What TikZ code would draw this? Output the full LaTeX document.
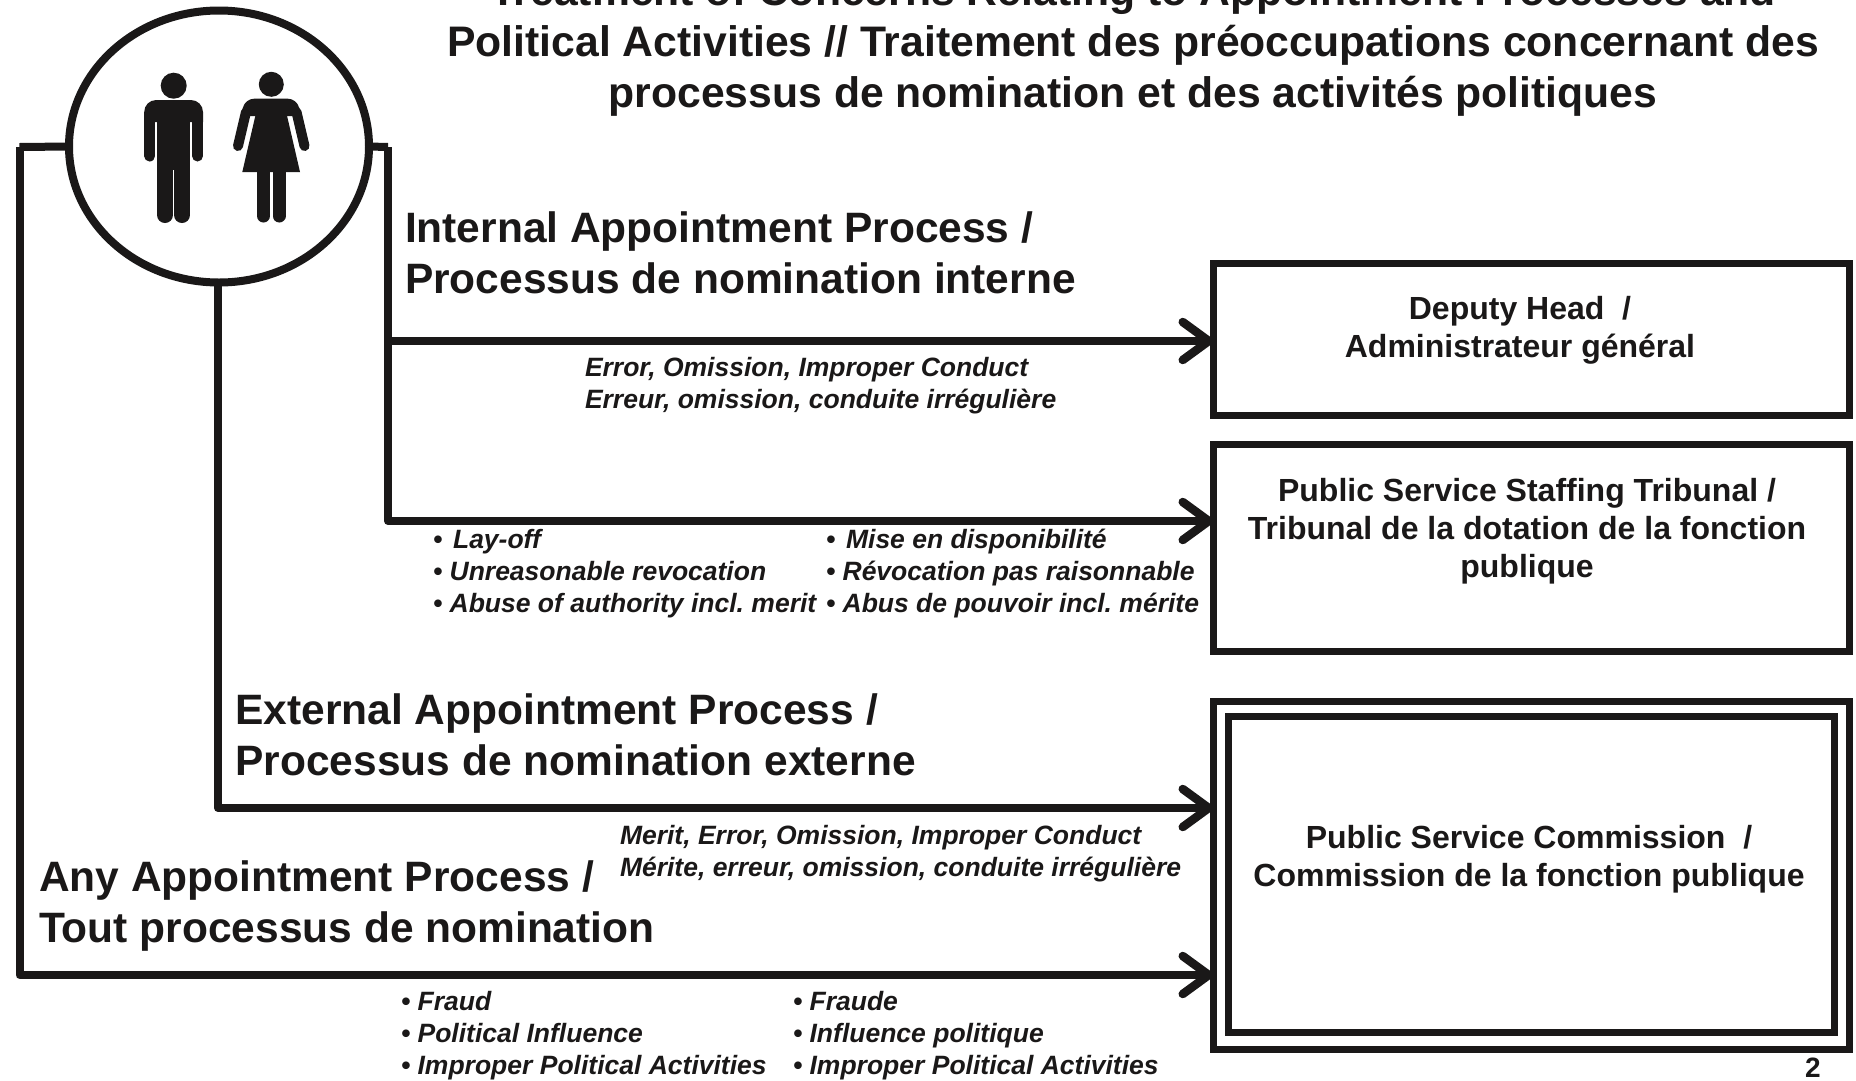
\documentclass[tikz,border=0pt]{standalone}
\usepackage{fontspec}
\setmainfont{Liberation Sans}
\frenchspacing
\usetikzlibrary{arrows.meta,calc,shapes.geometric}
\definecolor{ink}{HTML}{1A1818}
\tikzset{
  x=1pt,y=-1pt,
  every node/.style={text=ink,inner sep=0pt,outer sep=0pt},
  conn/.style={draw=ink,line width=8pt,line join=round},
  arrowconn/.style={conn,-{Straight Barb[length=26pt,width=38pt,line width=8.5pt,round]}},
  titletext/.style={align=center,anchor=north,font=\fontsize{42.7}{51}\selectfont\bfseries\frenchspacing},
  headtext/.style={align=left,anchor=north west,font=\fontsize{42.5}{51}\selectfont\bfseries},
  boxtext/.style={align=center,anchor=north,font=\fontsize{32}{38}\selectfont\bfseries},
  notetext/.style={align=left,anchor=north west,font=\fontsize{26.5}{32}\selectfont\bfseries\itshape\frenchspacing},
  boxframe/.style={draw=ink,line width=7pt,rectangle,anchor=north west},
  person/.style={draw=ink,fill=white,line width=8pt,ellipse,minimum width=300pt,minimum height=272pt},
  bodyfill/.style={fill=ink,draw=none},
  limb/.style={draw=ink,line cap=round}
}
\begin{document}
\begin{tikzpicture}
\useasboundingbox (0,0) rectangle (1856,1080);
% boxes
\node[boxframe,minimum width=636pt,minimum height=152pt] (dep) at (1213,263) {};
\node[boxframe,minimum width=636pt,minimum height=207pt] (trib) at (1213,444) {};
\node[boxframe,minimum width=636pt,minimum height=348pt] (psc) at (1213,701) {};
\node[boxframe,minimum width=606pt,minimum height=316pt] (pscin) at (1228,716) {};
% junction coordinates
\coordinate (lt) at (19.5,147);
\coordinate (lb) at (19.5,975);
\coordinate (rt) at (388,147);
\coordinate (rm) at (388,341);
\coordinate (rb) at (388,521);
\coordinate (mb) at (218,808);
% connectors
\draw[arrowconn] (rt) -- (rb) -- (rb -| trib.west);
\draw[arrowconn] (rm) -- (rm -| dep.west);
\draw[arrowconn] (218,200) -- (mb) -- (mb -| psc.west);
\draw[arrowconn] (rt -| lt) -- (lb) -- (lb -| psc.west);
\node[person] (who) at (219,146.5) {};
\draw[conn] (who.west) -- (lt);
\draw[conn] (who.east) -- (rt);
% man
\fill[bodyfill] (173.7,85.7) circle[radius=13];
\fill[bodyfill] (144.2,122) [rounded corners=12pt] -- (144.2,100) -- (203,100) [sharp corners] -- (203,122) -- cycle;
\fill[bodyfill] (156.7,105) rectangle (190,170);
\draw[limb,line width=11pt] (149.7,118) -- (149.7,156);
\draw[limb,line width=11pt] (197.5,118) -- (197.5,156);
\draw[limb,line width=16pt] (165,160) -- (165,215);
\draw[limb,line width=16pt] (182,160) -- (182,215);
% woman
\fill[bodyfill] (271.3,84.3) circle[radius=12.5];
\fill[bodyfill] (241,116) [rounded corners=9pt] -- (245,98.7) -- (297,98.7) [sharp corners] -- (301,116) -- cycle;
\fill[bodyfill] (256.7,110) -- (285.7,110) -- (300,172) -- (242.3,172) -- cycle;
\draw[limb,line width=10pt] (246,112) -- (238,146);
\draw[limb,line width=10pt] (296.5,112) -- (304.5,146);
\draw[limb,line width=13pt] (263.5,170) -- (263.5,216);
\draw[limb,line width=13pt] (279,170) -- (279,216);
% texts
\node[titletext] (title) at (1133,-25) {Treatment of Concerns Relating to Appointment Processes and\\Political Activities // Traitement des préoccupations concernant des\\processus de nomination et des activités politiques};
\node[headtext] (hint) at (405,211.4) {Internal Appointment Process /\\Processus de nomination interne};
\node[headtext] (hext) at (235.5,693.9) {External Appointment Process /\\Processus de nomination externe};
\node[headtext] (hany) at (39,860.4) {Any Appointment Process /\\Tout processus de nomination};
\node[boxtext] (tdep) at (1520,296.5) {Deputy Head~~/\\Administrateur général};
\node[boxtext] (ttrib) at (1527,478.5) {Public Service Staffing Tribunal /\\Tribunal de la dotation de la fonction\\publique};
\node[boxtext] (tpsc) at (1529,825) {Public Service Commission~~/\\Commission de la fonction publique};
\node[notetext] (nerr) at (585,357.5) {Error, Omission, Improper Conduct\\Erreur, omission, conduite irrégulière};
\node[notetext] (nlay) at (433,529.5) {•\hspace{10.8pt}Lay-off\\• Unreasonable revocation\\• Abuse of authority incl. merit};
\node[notetext] (nmise) at (826,529.5) {•\hspace{10.8pt}Mise en disponibilité\\• Révocation pas raisonnable\\• Abus de pouvoir incl. mérite};
\node[notetext] (nmer) at (620,825) {Merit, Error, Omission, Improper Conduct\\Mérite, erreur, omission, conduite irrégulière};
\node[notetext] (nfra) at (401,991) {• Fraud\\• Political Influence\\• Improper Political Activities};
\node[notetext] (nfre) at (793,991) {• Fraude\\• Influence politique\\• Improper Political Activities};
\node[anchor=base,font=\fontsize{28}{30}\selectfont\bfseries] (pg) at (1813,1077) {2};
\end{tikzpicture}
\end{document}
